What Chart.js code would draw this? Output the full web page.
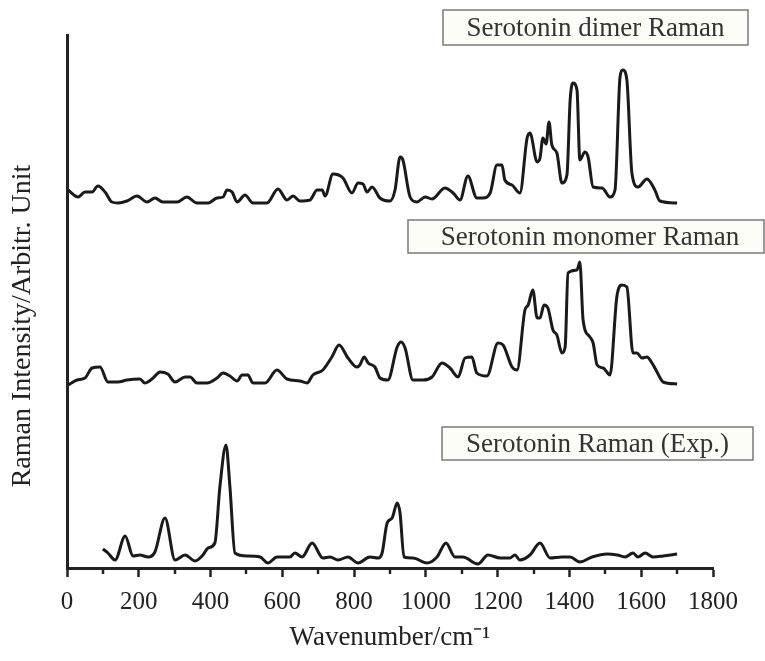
<!DOCTYPE html>
<html>
<head>
<meta charset="utf-8">
<title>Serotonin Raman spectra</title>
<script src="https://cdn.jsdelivr.net/npm/chart.js@4"></script>
<style>
  html, body { margin: 0; padding: 0; background: #ffffff; }
  #ramanChart { display: block; }
</style>
</head>
<body>
<canvas id="ramanChart" width="765" height="661"></canvas>
<script>
// Wavenumbers (cm-1) and offset intensities (arbitrary units)
const dimerWave = [3, 31, 50, 70, 86, 106, 125, 142, 167, 195, 223, 245, 267, 307, 334, 362, 393, 418, 435, 446,
  460, 474, 496, 518, 557, 588, 613, 630, 649, 677, 697, 711, 719, 741, 769, 794, 811, 825, 836, 850,
  872, 900, 914, 928, 936, 956, 975, 998, 1017, 1053, 1076, 1095, 1117, 1142, 1159, 1179, 1198, 1212, 1220, 1240,
  1262, 1282, 1290, 1310, 1318, 1326, 1335, 1343, 1351, 1365, 1379, 1393, 1402, 1410, 1421, 1429, 1443, 1452, 1466, 1491,
  1513, 1527, 1541, 1549, 1560, 1574, 1591, 1616, 1638, 1652, 1700];
const dimerIntensity = [378, 371, 376, 376, 382, 376, 366, 365, 367, 372, 366, 370, 366, 366, 371, 365, 365, 370, 371, 378,
  376, 366, 373, 365, 365, 379, 368, 372, 367, 368, 378, 378, 372, 394, 390, 375, 385, 384, 376, 381,
  370, 367, 378, 411, 408, 371, 366, 371, 369, 380, 375, 368, 392, 370, 370, 375, 403, 403, 388, 383,
  375, 430, 435, 406, 410, 430, 424, 446, 423, 415, 385, 393, 468, 485, 478, 408, 416, 411, 381, 380,
  371, 378, 491, 498, 488, 395, 381, 389, 378, 367, 365];

const monomerWave = [3, 28, 50, 70, 92, 114, 142, 167, 203, 217, 240, 259, 281, 301, 329, 343, 362, 390, 418, 435,
  454, 474, 488, 504, 518, 552, 585, 613, 649, 669, 685, 713, 738, 758, 783, 808, 816, 828, 839, 858,
  872, 894, 920, 931, 942, 964, 992, 1017, 1045, 1067, 1090, 1109, 1128, 1142, 1170, 1201, 1215, 1240, 1254, 1276,
  1285, 1298, 1310, 1318, 1329, 1340, 1354, 1365, 1379, 1388, 1396, 1421, 1429, 1438, 1457, 1466, 1477, 1494, 1513, 1532,
  1546, 1560, 1577, 1588, 1602, 1616, 1630, 1644, 1661, 1700];
const monomerIntensity = [183, 188, 190, 200, 201, 186, 186, 188, 189, 185, 190, 196, 194, 186, 191, 191, 185, 185, 190, 195,
  192, 187, 193, 193, 185, 185, 198, 189, 187, 185, 193, 198, 211, 223, 210, 201, 203, 211, 205, 201,
  190, 188, 221, 226, 220, 188, 188, 191, 205, 200, 191, 210, 211, 195, 192, 225, 223, 201, 198, 258,
  263, 278, 250, 250, 263, 260, 238, 233, 215, 221, 295, 298, 306, 248, 231, 225, 203, 200, 193, 271,
  283, 281, 215, 215, 210, 211, 205, 196, 186, 184];

const expWave = [100, 114, 134, 162, 184, 203, 226, 245, 273, 301, 329, 357, 379, 393, 412, 426, 443, 454, 468, 502,
  538, 560, 585, 621, 635, 655, 683, 713, 733, 755, 783, 811, 844, 867, 878, 892, 906, 920, 928, 939,
  964, 1003, 1031, 1056, 1081, 1103, 1145, 1173, 1207, 1234, 1248, 1262, 1290, 1318, 1346, 1379, 1402, 1429, 1463, 1505,
  1533, 1555, 1577, 1591, 1611, 1633, 1661, 1700];
const expIntensity = [19, 15, 8, 32, 12, 13, 11, 16, 50, 8, 13, 7, 13, 20, 25, 81, 123, 81, 15, 12,
  11, 5, 11, 11, 15, 11, 25, 10, 11, 8, 11, 5, 11, 10, 15, 45, 50, 65, 55, 11,
  10, 5, 11, 25, 11, 11, 4, 13, 10, 10, 13, 8, 13, 25, 10, 11, 11, 6, 11, 14,
  13, 11, 15, 11, 15, 11, 12, 14];

const xTicks = [0, 200, 400, 600, 800, 1000, 1200, 1400, 1600, 1800];
const seriesLabels = ["Serotonin dimer Raman", "Serotonin monomer Raman", "Serotonin Raman (Exp.)"];

const textColor = "#222222";
const serif = "'Liberation Serif', 'Times New Roman', serif";

function toPoints(xs, ys) {
  return xs.map((x, i) => ({ x: x, y: ys[i] }));
}

function spectrum(label, xs, ys) {
  return {
    label: label,
    data: toPoints(xs, ys),
    borderColor: "#1a1a1a",
    borderWidth: 3,
    pointRadius: 0,
    cubicInterpolationMode: "monotone",
    fill: false,
  };
}

// Boxed labels next to each trace, plus the rotated y title
const labelBoxes = [
  { text: seriesLabels[0], left: 443, top: 10, right: 748, bottom: 45 },
  { text: seriesLabels[1], left: 408, top: 220, right: 764, bottom: 253 },
  { text: seriesLabels[2], left: 442, top: 427, right: 753, bottom: 460 },
];

const annotations = {
  id: "annotations",
  afterDraw(chart) {
    const c = chart.ctx;
    const xScale = chart.scales.x;
    c.save();

    // shorter minor ticks between the labelled ones
    c.strokeStyle = textColor;
    c.lineWidth = 2.5;
    xScale.ticks.forEach((t) => {
      if (t.major) return;
      const px = Math.round(xScale.getPixelForValue(t.value));
      c.beginPath();
      c.moveTo(px, chart.chartArea.bottom);
      c.lineTo(px, chart.chartArea.bottom + 6);
      c.stroke();
    });

    labelBoxes.forEach((b) => {
      c.fillStyle = "#fdfdf8";
      c.fillRect(b.left, b.top, b.right - b.left, b.bottom - b.top);
      c.strokeStyle = "#7a7a7a";
      c.lineWidth = 1.5;
      c.strokeRect(b.left, b.top, b.right - b.left, b.bottom - b.top);
      c.fillStyle = "#333333";
      c.font = "27px " + serif;
      c.textAlign = "center";
      c.textBaseline = "middle";
      const cx = b.text === seriesLabels[1] ? 590 : (b.left + b.right) / 2;
      c.fillText(b.text, cx, (b.top + b.bottom) / 2 + 1);
    });

    // y axis title
    c.translate(23, 326);
    c.rotate(-Math.PI / 2);
    c.fillStyle = textColor;
    c.font = "28px " + serif;
    c.textAlign = "center";
    c.textBaseline = "middle";
    c.fillText("Raman Intensity/Arbitr. Unit", 0, 0);
    c.restore();
  },
};

const ctx = document.getElementById("ramanChart").getContext("2d");
new Chart(ctx, {
  type: "line",
  data: {
    datasets: [
      spectrum(seriesLabels[0], dimerWave, dimerIntensity),
      spectrum(seriesLabels[1], monomerWave, monomerIntensity),
      spectrum(seriesLabels[2], expWave, expIntensity),
    ],
  },
  options: {
    responsive: false,
    animation: false,
    layout: { padding: { top: 35, right: 52, left: 0, bottom: 0 } },
    plugins: {
      legend: { display: false },
      tooltip: { enabled: false },
    },
    scales: {
      x: {
        type: "linear",
        min: 0,
        max: 1800,
        afterBuildTicks: (scale) => {
          // major ticks every 200, minor every 100
          const ticks = [];
          for (let v = 0; v <= 1800; v += 100) ticks.push({ value: v, major: xTicks.includes(v) });
          scale.ticks = ticks;
        },
        ticks: {
          autoSkip: false,
          maxRotation: 0,
          padding: 10,
          color: textColor,
          font: { family: serif, size: 25 },
          callback: (v) => (xTicks.includes(v) ? String(v) : ""),
        },
        grid: {
          display: true,
          drawOnChartArea: false,
          drawTicks: true,
          tickLength: 9,
          tickWidth: 2.5,
          // minor ticks are drawn shorter by the plugin
          tickColor: (c) => (c.tick && c.tick.major ? textColor : "rgba(0,0,0,0)"),
        },
        border: { display: true, color: textColor, width: 3 },
        title: {
          display: true,
          text: "Wavenumber/cm\u207B\u00B9",
          color: textColor,
          font: { family: serif, size: 27 },
          padding: { top: 0, bottom: 7 },
        },
        afterFit: (scale) => {
          scale.height = 93;
        },
      },
      y: {
        min: 0,
        max: 533,
        ticks: { display: false },
        grid: { display: false },
        border: { display: true, color: textColor, width: 3 },
        afterFit: (scale) => {
          scale.width = 67;
        },
      },
    },
  },
  plugins: [annotations],
});
</script>
</body>
</html>
